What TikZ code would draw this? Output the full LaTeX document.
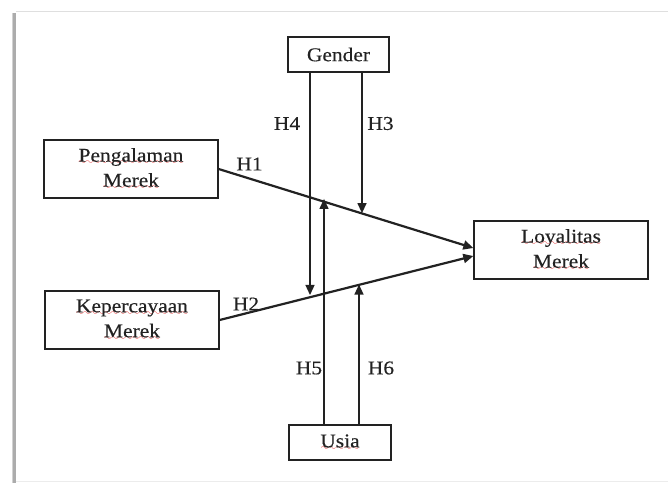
\documentclass[tikz,border=0pt]{standalone}
\usepackage{fontspec}
\setmainfont{Liberation Serif}[FakeStretch=1.1,FakeBold=0.3]
\usetikzlibrary{arrows.meta,calc}
\font\sqfont=lasy10
\definecolor{squig}{HTML}{E02020}
\newcommand\sq[1]{\leavevmode\setbox0\hbox{#1}\rlap{\textcolor{squig}{\lower 3.2pt\hbox to\wd0{\xleaders\hbox{\sqfont\char58}\hfil}}}\box0}
\definecolor{ink}{HTML}{222222}
\tikzset{
  box/.style={draw=ink, line width=1.3pt, minimum width=174pt, minimum height=58pt, align=center, inner sep=0pt, text=ink, font=\fontsize{19.5}{25}\selectfont},
  smallbox/.style={box, minimum width=101pt, minimum height=35pt},
  lab/.style={text=ink, inner sep=0pt, font=\fontsize{19.5}{25}\selectfont},
  main/.style={draw=ink, line width=2.2pt, -{Triangle[length=10pt,width=9pt]}},
  mod/.style={draw=ink, line width=1.3pt, -{Triangle[length=10pt,width=9pt]}}
}
\begin{document}
\begin{tikzpicture}[x=1pt,y=-1pt]
\useasboundingbox (0,0) rectangle (668,483);
% page frame
\fill[white] (0,0) rectangle (668,483);
\fill[gray!35] (11.5,13) rectangle (13,483);
\fill[gray!65] (13,13) rectangle (15.5,483);
\fill[gray!25] (15.5,10.5) rectangle (668,12);
\fill[gray!15] (15.5,480.5) rectangle (668,481.5);
% boxes
\node[smallbox] (gender) at (338.5,54.5) {Gender};
\node[box] (peng) at (131,169) {\sq{Pengalaman}\\\sq{Merek}};
\node[box] (kep) at (132,320) {\sq{Kepercayaan}\\\sq{Merek}};
\node[box] (loy) at (561,250) {\sq{Loyalitas}\\\sq{Merek}};
\node[smallbox, minimum width=102pt] (usia) at (340,442.5) {\sq{Usia}};
% main paths
\coordinate (h1s) at (peng.east);
\coordinate (h1e) at ([yshift=2pt]loy.west);
\coordinate (h2s) at (kep.east);
\coordinate (h2e) at ([yshift=-6pt]loy.west);
\draw[main] (h1s) -- (h1e);
\draw[main] (h2s) -- (h2e);
% moderators
\coordinate (g4) at ([xshift=-28.5pt]gender.south);
\coordinate (g3) at ([xshift=23.5pt]gender.south);
\coordinate (u5) at ([xshift=-16pt]usia.north);
\coordinate (u6) at ([xshift=19pt]usia.north);
\coordinate (t4) at (intersection of h2s--h2e and g4--u5);
\coordinate (t3) at (intersection of h1s--h1e and g3--u6);
\coordinate (t5) at (intersection of h1s--h1e and u5--g4);
\coordinate (t6) at (intersection of h2s--h2e and u6--g3);
\coordinate (t4) at (g4 |- t4);
\coordinate (t3) at (g3 |- t3);
\coordinate (t5) at (u5 |- t5);
\coordinate (t6) at (u6 |- t6);
\draw[mod] (g4) -- (t4);
\draw[mod] (g3) -- (t3);
\draw[mod] (u5) -- (t5);
\draw[mod] (u6) -- (t6);
% labels
\node[lab] (l1) at (249.5,164) {H1};
\node[lab] (l2) at (246,304) {H2};
\node[lab] (l4) at (287,123.5) {H4};
\node[lab] (l3) at (380.5,123.5) {H3};
\node[lab] (l5) at (309,368) {H5};
\node[lab] (l6) at (381,368) {H6};
\end{tikzpicture}
\end{document}
